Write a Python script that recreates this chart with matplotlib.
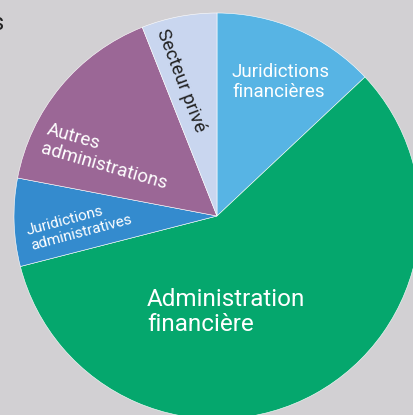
import matplotlib
matplotlib.use("Agg")
import matplotlib.pyplot as plt

plt.rcParams['font.family'] = ['Roboto', 'DejaVu Sans']

categories = ["Juridictions\nfinancières", "Administration\nfinancière",
              "Juridictions\nadministratives", "Autres\nadministrations", "Secteur privé"]
values = [13, 58, 7, 16, 6]
colors = ["#57b4e4", "#05a76d", "#348bce", "#9b6796", "#c9d6ef"]

W, H = 414, 415
bg = "#d2d0d3"
fig = plt.figure(figsize=(W / 100, H / 100), dpi=100, facecolor=bg)

cx, cy, r = 217, 216, 203
ax = fig.add_axes([(cx - r) / W, (H - cy - r) / H, 2 * r / W, 2 * r / H])
ax.set_facecolor(bg)
wedges, _ = ax.pie(values, colors=colors, startangle=90, counterclock=False,
                   radius=1.0, wedgeprops=dict(edgecolor="white", linewidth=0.4))
for w in wedges:
    w.set_clip_on(False)
ax.set_xlim(-1, 1)
ax.set_ylim(-1, 1)
ax.set_aspect("equal")
ax.axis("off")


def px(x, y):
    return (x - cx) / r, (cy - y) / r


label_specs = [
    (px(281, 82), 0, 13.5, "white"),
    (px(226, 312), 0, 17.5, "white"),
    (px(79, 225), 15, 11, "white"),
    (px(107, 157), -16, 13.5, "white"),
    (px(181, 81), -69, 13.5, "#222222"),
]
for lab, (pos, rot, fs, col) in zip(categories, label_specs):
    ax.text(pos[0], pos[1], lab, ha="center", va="center", multialignment="left",
            rotation=rot, fontsize=fs, color=col, linespacing=1.15,
            rotation_mode="anchor")

fig.text(4.5 / W, 1 - 30 / H, "s", ha="right", va="baseline", fontsize=17, color="#222222")

fig.savefig("out.png", dpi=100, facecolor=bg)
